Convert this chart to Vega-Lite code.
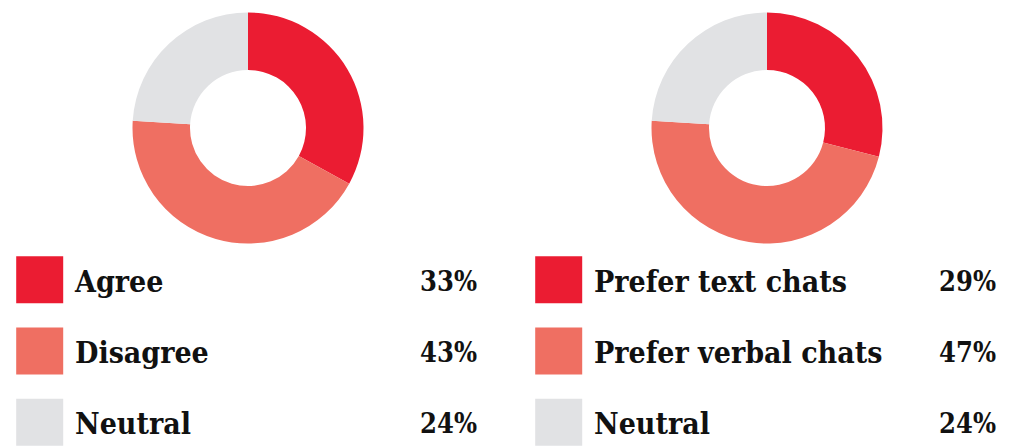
{
  "$schema": "https://vega.github.io/schema/vega-lite/v6.json",
  "background": "white",
  "padding": {"left": 16, "top": 12, "right": 0, "bottom": 0},
  "config": {"view": {"stroke": null}},
  "datasets": {
    "survey": [
      {"g": "A", "k": 1, "label": "Agree", "pct": 0.33},
      {"g": "A", "k": 2, "label": "Disagree", "pct": 0.43},
      {"g": "A", "k": 3, "label": "Neutral", "pct": 0.24},
      {"g": "B", "k": 1, "label": "Prefer text chats", "pct": 0.29},
      {"g": "B", "k": 2, "label": "Prefer verbal chats", "pct": 0.47},
      {"g": "B", "k": 3, "label": "Neutral", "pct": 0.24}
    ]
  },
  "data": {"name": "survey"},
  "spacing": 55,
  "resolve": {"scale": {"color": "independent"}},
  "hconcat": [
    {
      "spacing": 0,
      "transform": [{"filter": "datum.g == 'A'"}],
      "vconcat": [
        {
          "width": 464,
          "height": 232,
          "mark": {"type": "arc", "outerRadius": 115.5, "innerRadius": 58},
          "encoding": {
            "theta": {"field": "pct", "type": "quantitative", "stack": true},
            "order": {"field": "k", "type": "quantitative"},
            "color": {"field": "label", "type": "nominal", "legend": null,
              "scale": {"domain": ["Agree", "Disagree", "Neutral"], "range": ["#EB1C32", "#EF6F62", "#E1E2E4"]}}
          }
        },
        {
          "width": 461,
          "height": 214,
          "encoding": {
            "y": {"field": "label", "type": "nominal", "sort": {"field": "k"}, "axis": null}
          },
          "layer": [
            {
              "mark": {"type": "square", "size": 2209, "x": 23.7, "filled": true, "opacity": 1},
              "encoding": {
                "color": {"field": "label", "type": "nominal", "legend": null,
                  "scale": {"domain": ["Agree", "Disagree", "Neutral"], "range": ["#EB1C32", "#EF6F62", "#E1E2E4"]}}
              }
            },
            {
              "mark": {"type": "text", "x": 59, "align": "left", "baseline": "middle", "dy": 3, "font": "DejaVu Serif Condensed", "fontWeight": "bold", "fontSize": 30, "color": "#111111"},
              "encoding": {"text": {"field": "label"}}
            },
            {
              "mark": {"type": "text", "x": 461, "align": "right", "baseline": "middle", "dy": 3, "font": "DejaVu Serif Condensed", "fontWeight": "bold", "fontSize": 27, "color": "#111111"},
              "encoding": {"text": {"field": "pct", "type": "quantitative", "format": ".0%"}}
            }
          ]
        }
      ]
    },
    {
      "spacing": 0,
      "transform": [{"filter": "datum.g == 'B'"}],
      "vconcat": [
        {
          "width": 464,
          "height": 232,
          "mark": {"type": "arc", "outerRadius": 115.5, "innerRadius": 58},
          "encoding": {
            "theta": {"field": "pct", "type": "quantitative", "stack": true},
            "order": {"field": "k", "type": "quantitative"},
            "color": {"field": "label", "type": "nominal", "legend": null,
              "scale": {"domain": ["Prefer text chats", "Prefer verbal chats", "Neutral"], "range": ["#EB1C32", "#EF6F62", "#E1E2E4"]}}
          }
        },
        {
          "width": 461,
          "height": 214,
          "encoding": {
            "y": {"field": "label", "type": "nominal", "sort": {"field": "k"}, "axis": null}
          },
          "layer": [
            {
              "mark": {"type": "square", "size": 2209, "x": 23.7, "filled": true, "opacity": 1},
              "encoding": {
                "color": {"field": "label", "type": "nominal", "legend": null,
                  "scale": {"domain": ["Prefer text chats", "Prefer verbal chats", "Neutral"], "range": ["#EB1C32", "#EF6F62", "#E1E2E4"]}}
              }
            },
            {
              "mark": {"type": "text", "x": 59, "align": "left", "baseline": "middle", "dy": 3, "font": "DejaVu Serif Condensed", "fontWeight": "bold", "fontSize": 30, "color": "#111111"},
              "encoding": {"text": {"field": "label"}}
            },
            {
              "mark": {"type": "text", "x": 461, "align": "right", "baseline": "middle", "dy": 3, "font": "DejaVu Serif Condensed", "fontWeight": "bold", "fontSize": 27, "color": "#111111"},
              "encoding": {"text": {"field": "pct", "type": "quantitative", "format": ".0%"}}
            }
          ]
        }
      ]
    }
  ]
}
